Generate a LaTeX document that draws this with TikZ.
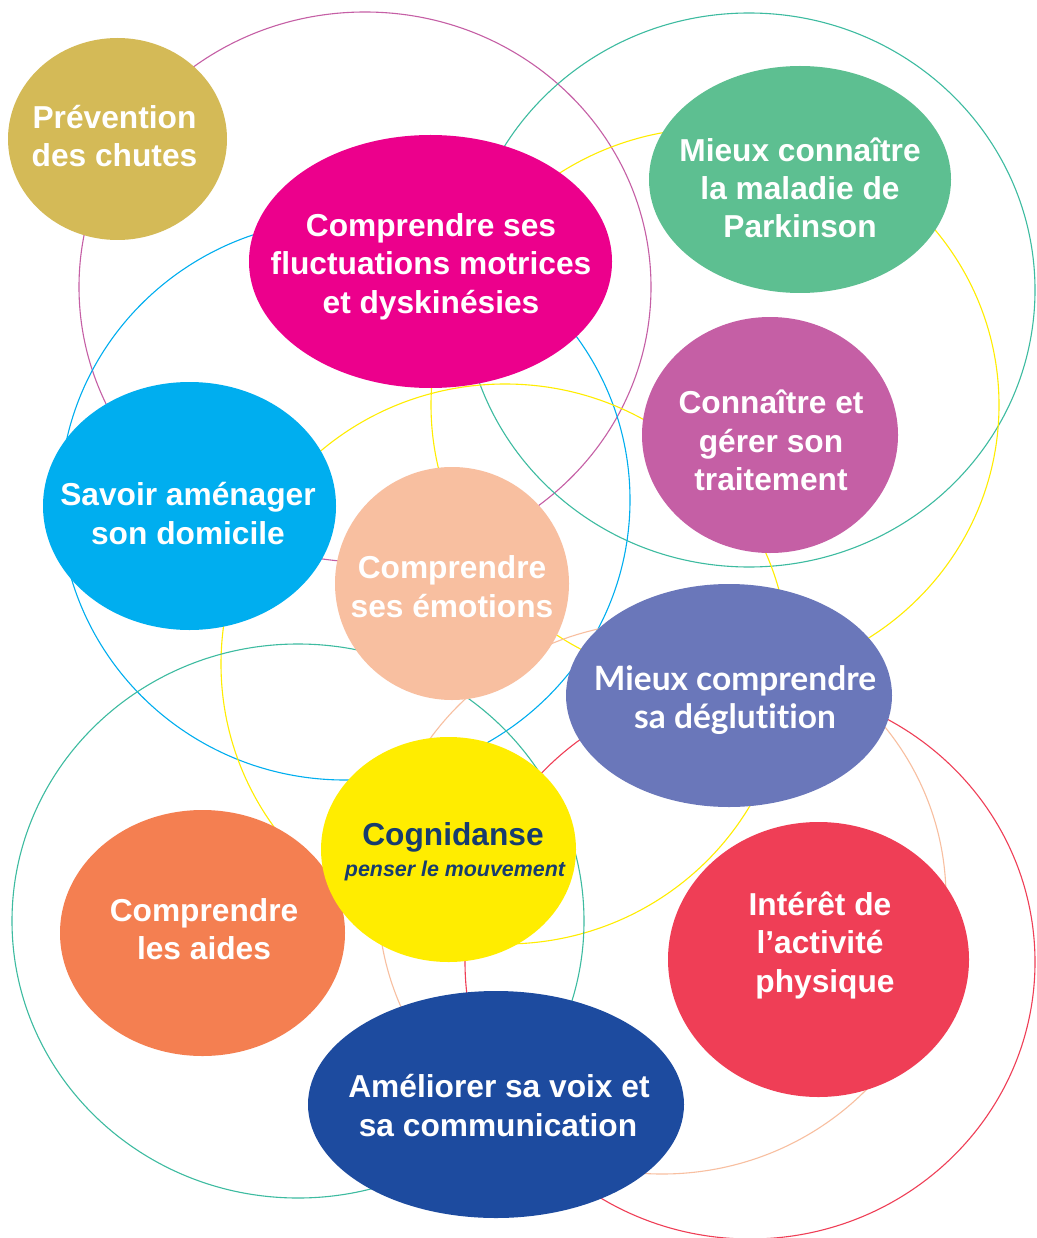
\documentclass[tikz,border=0pt]{standalone}
\usepackage{fontspec}
\setmainfont{Liberation Sans}
\newfontfamily\avfont[Ligatures={NoCommon,NoDiscretionary}]{Lato}
\definecolor{cPrev}{HTML}{D4BA57}
\definecolor{cFluc}{HTML}{EC008C}
\definecolor{cGreen}{HTML}{5DBF91}
\definecolor{cTrait}{HTML}{C55FA5}
\definecolor{cCyan}{HTML}{00AEEF}
\definecolor{cPeach}{HTML}{F8BFA0}
\definecolor{cDeg}{HTML}{6A77BA}
\definecolor{cYel}{HTML}{FFED00}
\definecolor{cOrange}{HTML}{F47F51}
\definecolor{cRed}{HTML}{EF3E56}
\definecolor{cNavy}{HTML}{1D4B9F}
\definecolor{cTeal}{HTML}{3DBBA0}
\definecolor{cCogText}{HTML}{173C6E}
\begin{document}
\begin{tikzpicture}[x=1pt,y=-1pt,
  ring/.style={line width=1.1pt},
  lbl/.style={text=white, anchor=base, inner sep=0pt, font=\fontsize{31.7}{38.5}\selectfont\bfseries},
  avlbl/.style={text=white, anchor=base, inner sep=0pt, font=\fontsize{33.5}{38}\selectfont\avfont\bfseries}]
\useasboundingbox (0,0) rectangle (1036,1238);
\fill[white] (0,0) rectangle (1036,1238);
% outline rings
\draw[ring, cTrait] (365,287) ellipse [x radius=286, y radius=275];
\draw[ring, cTeal] (749,290) ellipse [x radius=286, y radius=277];
\draw[ring, cYel] (715,405) ellipse [x radius=284, y radius=277];
\draw[ring, cCyan] (345,500) ellipse [x radius=285, y radius=280];
\draw[ring, cYel] (505,664) ellipse [x radius=284, y radius=280];
\draw[ring, cTeal] (298,921) ellipse [x radius=286, y radius=277];
\draw[ring, cRed] (750,962) ellipse [x radius=285, y radius=277];
\draw[ring, cPeach] (662,898) ellipse [x radius=284, y radius=276];
% filled topics
\fill[cPrev] (117.5,139) ellipse [x radius=109.5, y radius=101];
\fill[cFluc] (430.5,261.5) ellipse [x radius=181.5, y radius=126.5];
\fill[cGreen] (800,179.5) ellipse [x radius=151, y radius=113.5];
\fill[cTrait] (770,435) ellipse [x radius=128, y radius=118];
\fill[cCyan] (189.5,506) ellipse [x radius=146.5, y radius=124];
\fill[cPeach] (452,583.5) ellipse [x radius=117, y radius=116.5];
\fill[cDeg] (729,695.5) ellipse [x radius=163, y radius=111.5];
\fill[cOrange] (202.5,933) ellipse [x radius=142.5, y radius=123];
\fill[cYel] (448.5,849.5) ellipse [x radius=127.5, y radius=112.5];
\fill[cRed] (818.5,959.5) ellipse [x radius=150.5, y radius=137.5];
\fill[cNavy] (496,1104.5) ellipse [x radius=188, y radius=113.5];
% labels
\node[lbl] (prevA) at (114.5,129) {Prévention};
\node[lbl] (prevB) at (114.5,167) {des chutes};
\node[lbl] (flucA) at (431,236.5) {Comprendre ses};
\node[lbl] (flucB) at (431,274.5) {fluctuations motrices};
\node[lbl] (flucC) at (431,313) {et dyskinésies};
\node[lbl] (parkA) at (800,162) {Mieux connaître};
\node[lbl] (parkB) at (800,200) {la maladie de};
\node[lbl] (parkC) at (800,238) {Parkinson};
\node[lbl] (traitA) at (771,413) {Connaître et};
\node[lbl] (traitB) at (771,452) {gérer son};
\node[lbl] (traitC) at (771,490) {traitement};
\node[lbl] (domA) at (188,505) {Savoir aménager};
\node[lbl] (domB) at (188,544) {son domicile};
\node[lbl] (emoA) at (452,578) {Comprendre};
\node[lbl] (emoB) at (452,617) {ses émotions};
\node[avlbl] (degA) at (735,690) {Mieux comprendre};
\node[avlbl] (degB) at (735,728) {sa déglutition};
\node[lbl, text=cCogText] (cogA) at (453,845) {Cognidanse};
\node[lbl, text=cCogText, font=\fontsize{21.4}{26}\selectfont\bfseries\itshape] (cogB) at (455,876) {penser le mouvement};
\node[lbl] (aideA) at (204,921) {Comprendre};
\node[lbl] (aideB) at (204,959) {les aides};
\node[lbl] (physA) at (820,915.5) {Intérêt de};
\node[lbl] (physB) at (820,953.5) {l’activité};
\node[lbl] (physC) at (825,992.5) {physique};
\node[lbl] (voixA) at (499,1097) {Améliorer sa voix et};
\node[lbl] (voixB) at (498,1136) {sa communication};
\end{tikzpicture}
\end{document}
